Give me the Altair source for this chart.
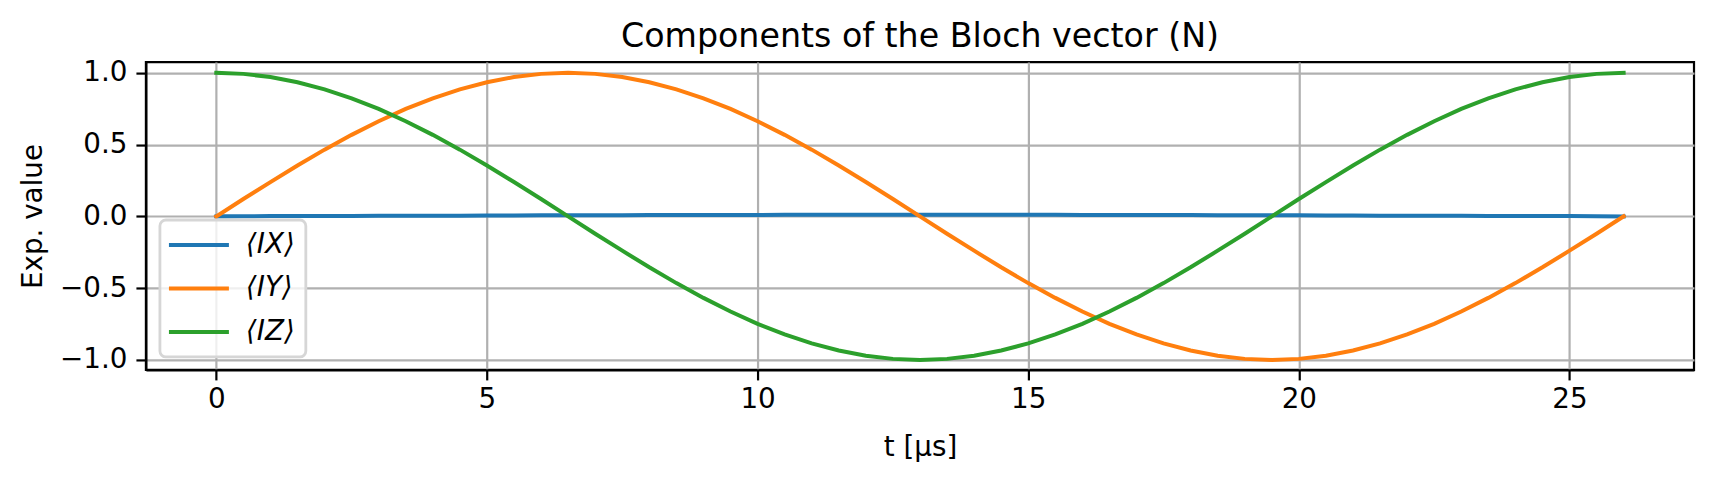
import altair as alt
import pandas as pd

# time samples [µs]
t = [i * 0.5 for i in range(53)]

# read-off expectation values
ix = [0.000, 0.001, 0.002, 0.002, 0.003, 0.003, 0.004, 0.004, 0.005, 0.005,
      0.006, 0.006, 0.007, 0.007, 0.008, 0.008, 0.009, 0.009, 0.010, 0.010,
      0.010, 0.011, 0.011, 0.011, 0.011, 0.012, 0.012, 0.012, 0.011, 0.011,
      0.011, 0.011, 0.010, 0.010, 0.010, 0.009, 0.009, 0.008, 0.008, 0.007,
      0.007, 0.006, 0.006, 0.005, 0.005, 0.004, 0.004, 0.003, 0.003, 0.002,
      0.002, 0.001, 0.000]

iy = [0.000, 0.121, 0.239, 0.355, 0.465, 0.568, 0.663, 0.749, 0.823, 0.885,
      0.935, 0.971, 0.993, 1.000, 0.993, 0.971, 0.935, 0.885, 0.823, 0.749,
      0.663, 0.568, 0.465, 0.355, 0.239, 0.121, 0.000, -0.121, -0.239, -0.355,
      -0.465, -0.568, -0.663, -0.749, -0.823, -0.885, -0.935, -0.971, -0.993, -1.000,
      -0.993, -0.971, -0.935, -0.885, -0.823, -0.749, -0.663, -0.568, -0.465, -0.355,
      -0.239, -0.121, 0.000]

iz = [1.000, 0.993, 0.971, 0.935, 0.885, 0.823, 0.749, 0.663, 0.568, 0.465,
      0.355, 0.239, 0.121, 0.000, -0.121, -0.239, -0.355, -0.465, -0.568, -0.663,
      -0.749, -0.823, -0.885, -0.935, -0.971, -0.993, -1.000, -0.993, -0.971, -0.935,
      -0.885, -0.823, -0.749, -0.663, -0.568, -0.465, -0.355, -0.239, -0.121, 0.000,
      0.121, 0.239, 0.355, 0.465, 0.568, 0.663, 0.749, 0.823, 0.885, 0.935,
      0.971, 0.993, 1.000]

series_names = ["\u27e8IX\u27e9", "\u27e8IY\u27e9", "\u27e8IZ\u27e9"]
series_colors = ["#1f77b4", "#ff7f0e", "#2ca02c"]
x_ticks = [0, 5, 10, 15, 20, 25]
y_ticks = [-1.0, -0.5, 0.0, 0.5, 1.0]

rows = []
for name, vals in zip(series_names, [ix, iy, iz]):
    for tt, v in zip(t, vals):
        rows.append({"t": tt, "value": v, "series": name})
df = pd.DataFrame(rows)

FONT = "DejaVu Sans"
LW = 2.2

chart = alt.Chart(df).mark_line(strokeWidth=4, strokeCap="square").encode(
    x=alt.X("t:Q",
            scale=alt.Scale(domain=[-1.3, 27.3], nice=False, zero=False),
            axis=alt.Axis(values=x_ticks, title="t [\u03bcs]", format="d",
                          titlePadding=20, labelPadding=6)),
    y=alt.Y("value:Q",
            scale=alt.Scale(domain=[-1.07, 1.075], nice=False, zero=False),
            axis=alt.Axis(values=y_ticks, title="Exp. value", format=".1f",
                          titlePadding=12, labelPadding=9)),
    color=alt.Color("series:N",
                    scale=alt.Scale(domain=series_names, range=series_colors),
                    legend=alt.Legend(title=None, orient="none",
                                      legendX=14, legendY=158,
                                      symbolType="M-1.33,0H3.67",
                                      symbolSize=576, symbolStrokeWidth=4,
                                      labelFontSize=27.8, labelFont=FONT,
                                      labelFontStyle="italic",
                                      labelOffset=47,
                                      padding=11, rowPadding=15.5,
                                      strokeColor="#d6d6d6",
                                      fillColor="rgba(255,255,255,0.8)",
                                      cornerRadius=6,
                                      labelLimit=400)),
).properties(
    width=1549, height=308,
    title=alt.TitleParams("Components of the Bloch vector (N)", fontSize=33.3,
                          font=FONT, fontWeight="normal", anchor="middle",
                          offset=5, color="black"),
    autosize=alt.AutoSizeParams(type="none"),
    padding={"left": 138, "top": 54, "right": 14, "bottom": 100},
).configure_view(
    stroke="black", strokeWidth=LW
).configure_axis(
    labelFont=FONT, titleFont=FONT, labelFontSize=27.8, titleFontSize=27.8,
    titleFontWeight="normal", labelColor="black", titleColor="black",
    grid=True, gridColor="#b0b0b0", gridWidth=LW,
    domainColor="black", domainWidth=LW,
    tickColor="black", tickWidth=LW, tickSize=10,
).configure_legend(
    strokeWidth=2.8
)

chart.save("out.html", embed_options={"renderer": "svg", "actions": False})
